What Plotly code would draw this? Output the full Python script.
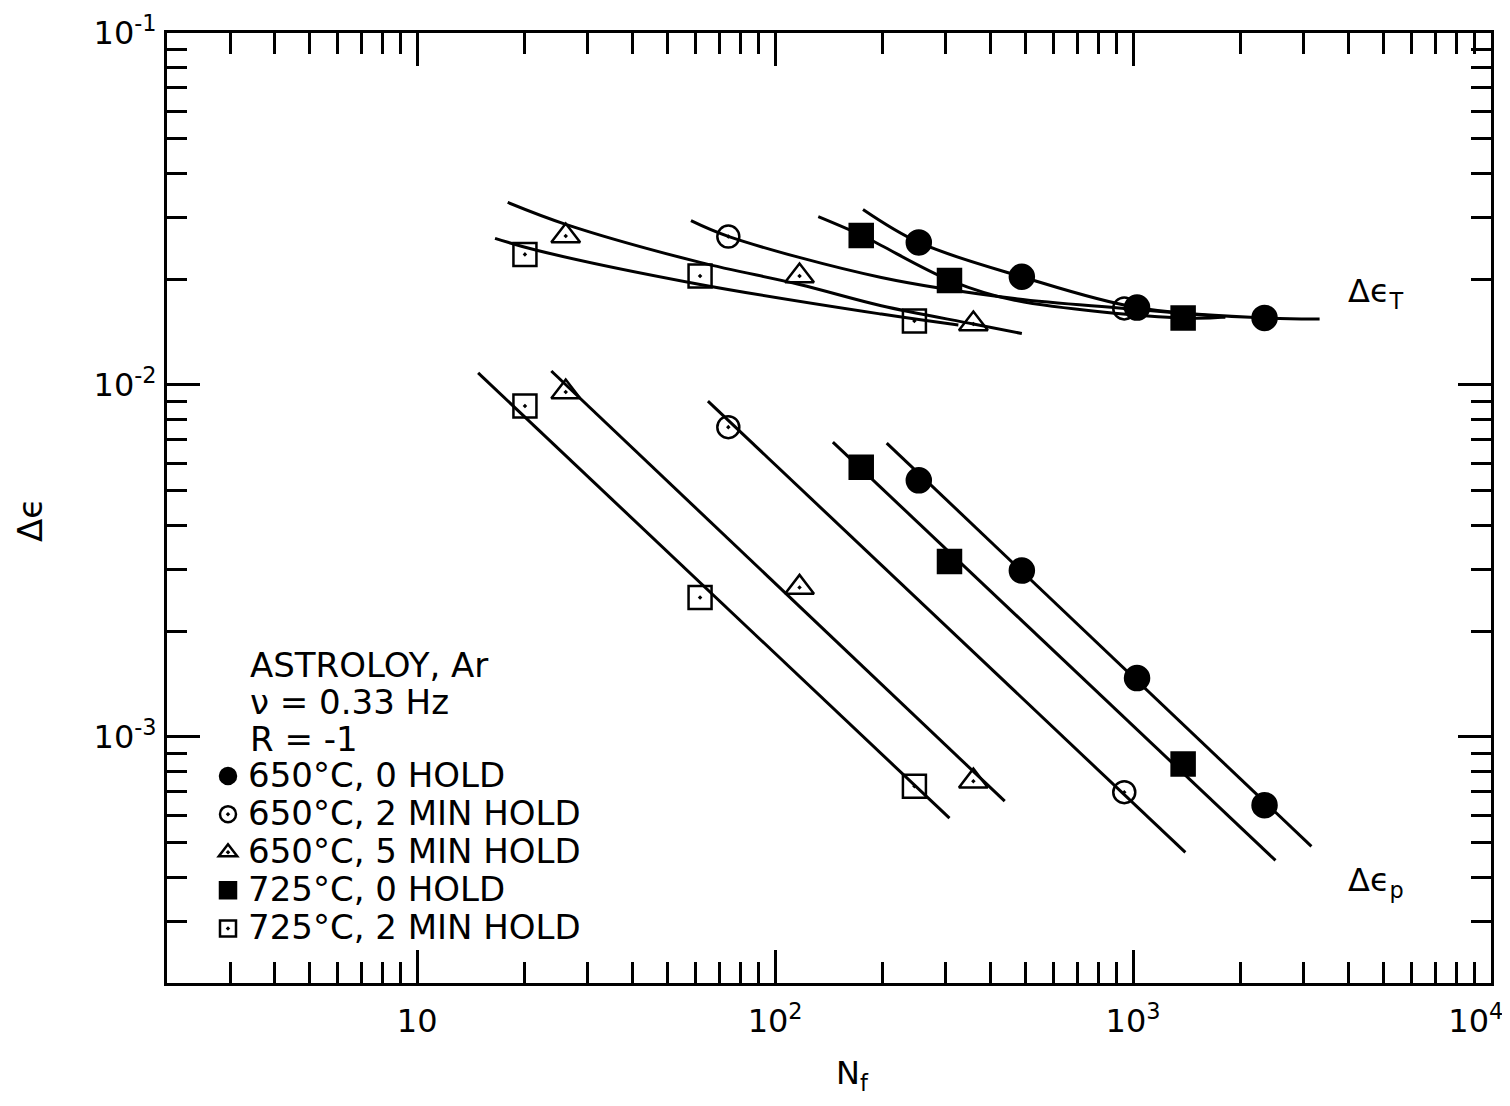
import math
import plotly.graph_objects as go

# ---------------- data ----------------
# Cycles to failure for each condition (shared by total and plastic ranges)
N_650_0 = [252, 489, 1026, 2330]
T_650_0 = [0.0254, 0.0203, 0.0166, 0.0155]
P_650_0 = [0.00536, 0.00297, 0.00147, 0.00064]

N_650_2 = [74, 945]
T_650_2 = [0.0264, 0.0165]
P_650_2 = [0.00759, 0.000697]

N_650_5 = [26, 117, 358]
T_650_5 = [0.0265, 0.0204, 0.0149]
P_650_5 = [0.00955, 0.00266, 0.000749]

N_725_0 = [174, 307, 1380]
T_725_0 = [0.0266, 0.0198, 0.0155]
P_725_0 = [0.00584, 0.00315, 0.000838]

N_725_2 = [20, 61.7, 245]
T_725_2 = [0.0235, 0.0204, 0.0152]
P_725_2 = [0.00871, 0.00249, 0.000725]

# Fitted total-strain curves
FT_650_0_N = [176, 252, 489, 1026, 2330, 3320]
FT_650_0_V = [0.0315, 0.0254, 0.0203, 0.0166, 0.0155, 0.0154]
FT_650_2_N = [58.2, 74.3, 198, 467, 950, 1810]
FT_650_2_V = [0.0293, 0.0264, 0.0202, 0.0176, 0.0165, 0.0156]
FT_650_5_N = [17.9, 26, 61.7, 117, 198, 358, 489]
FT_650_5_V = [0.0330, 0.0286, 0.0223, 0.0193, 0.0168, 0.0149, 0.0140]
FT_725_0_N = [132, 175, 198, 309, 467, 1400, 1810]
FT_725_0_V = [0.0301, 0.0266, 0.0249, 0.0198, 0.0174, 0.0155, 0.0156]
FT_725_2_N = [16.5, 21.7, 61.7, 198, 325]
FT_725_2_V = [0.0261, 0.0241, 0.0193, 0.0159, 0.0148]

# Fitted plastic-strain lines (end points)
FP_650_0_N = [205, 3150]
FP_650_0_V = [0.00684, 0.000489]
FP_650_2_N = [64.9, 1400]
FP_650_2_V = [0.0090, 0.00047]
FP_650_5_N = [23.7, 438]
FP_650_5_V = [0.01096, 0.000657]
FP_725_0_N = [145, 2500]
FP_725_0_V = [0.00688, 0.000446]
FP_725_2_N = [14.8, 307]
FP_725_2_V = [0.01082, 0.000588]

SERIES_NAMES = ["650°C, 0 HOLD", "650°C, 2 MIN HOLD", "650°C, 5 MIN HOLD",
                "725°C, 0 HOLD", "725°C, 2 MIN HOLD"]
X_TICKS = [10, 100, 1000, 10000]
X_TICK_TEXT = ["10", "10<sup>2</sup>", "10<sup>3</sup>", "10<sup>4</sup>\u00a0\u00a0\u00a0"]
Y_TICKS = [1e-3, 1e-2, 1e-1]
Y_TICK_TEXT = ["10<sup>-3</sup>", "10<sup>-2</sup>", "10<sup>-1</sup>"]
X_MINOR = [m * 10 ** d for d in range(0, 4) for m in range(2, 10)]
Y_MINOR = [m * 10.0 ** d for d in range(-4, -1) for m in range(2, 10)]

FONT = "DejaVu Sans"
# page body has an 8px margin: figure is 1494x1090 so the page is 1510x1106
W, H = 1494, 1090
ML, MR, MT, MB = 159, 11, 25, 115
PW, PH = W - ML - MR, H - MT - MB
OFF = 8


def px(xs):  # screen x -> paper fraction
    return (xs - OFF - ML) / PW


def py(ys):  # screen y -> paper fraction
    return (H - MB - (ys - OFF)) / PH


fig = go.Figure()

series = [
    (N_650_0, T_650_0, P_650_0, "circle", 24, FT_650_0_N, FT_650_0_V, FP_650_0_N, FP_650_0_V),
    (N_650_2, T_650_2, P_650_2, "circle-open-dot", 22, FT_650_2_N, FT_650_2_V, FP_650_2_N, FP_650_2_V),
    (N_650_5, T_650_5, P_650_5, "triangle-up-open-dot", 25, FT_650_5_N, FT_650_5_V, FP_650_5_N, FP_650_5_V),
    (N_725_0, T_725_0, P_725_0, "square", 23, FT_725_0_N, FT_725_0_V, FP_725_0_N, FP_725_0_V),
    (N_725_2, T_725_2, P_725_2, "square-open-dot", 23, FT_725_2_N, FT_725_2_V, FP_725_2_N, FP_725_2_V),
]

# fitted lines first (under the markers)
for (n, t, p, sym, sz, ftn, ftv, fpn, fpv) in series:
    fig.add_trace(go.Scatter(x=ftn, y=ftv, mode="lines",
                             line=dict(color="black", width=3, shape="spline", smoothing=1.0),
                             showlegend=False, hoverinfo="skip"))
    fig.add_trace(go.Scatter(x=fpn, y=fpv, mode="lines", line=dict(color="black", width=3),
                             showlegend=False, hoverinfo="skip"))

for name, (n, t, p, sym, sz, ftn, ftv, fpn, fpv) in zip(SERIES_NAMES, series):
    fig.add_trace(go.Scatter(
        x=list(n) + list(n), y=list(t) + list(p), mode="markers",
        name='<span style="font-size:34px">' + name + "</span>",
        marker=dict(symbol=sym, size=sz, color="black", line=dict(color="black", width=2.5)),
    ))

axis_common = dict(
    type="log", showline=True, linecolor="black", linewidth=3, mirror="allticks",
    ticks="inside", tickwidth=3, tickcolor="black", showgrid=False, zeroline=False,
    tickfont=dict(family=FONT, size=32, color="black"), ticklabeloverflow="allow",
    automargin=False,
)

fig.update_xaxes(
    range=[math.log10(2), 4], tickmode="array", tickvals=X_TICKS, ticktext=X_TICK_TEXT,
    ticklen=33, ticklabelstandoff=8,
    minor=dict(tickmode="array", tickvals=X_MINOR, ticks="inside", ticklen=21, tickwidth=3, tickcolor="black"),
    **axis_common,
)
fig.update_yaxes(
    range=[math.log10(2e-4), -1], tickmode="array", tickvals=Y_TICKS, ticktext=Y_TICK_TEXT,
    ticklen=33, ticklabelstandoff=1,
    minor=dict(tickmode="array", tickvals=Y_MINOR, ticks="inside", ticklen=20, tickwidth=3, tickcolor="black"),
    **axis_common,
)

header = [
    ("ASTROLOY, Ar", 248, 665),
    ("\u03bd = 0.33 Hz", 248, 702),
    ("R = -1", 248, 739),
]
anns = []
for text, xs, ys in header:
    anns.append(dict(text=text, x=px(xs), y=py(ys), xref="paper", yref="paper", xanchor="left",
                     yanchor="middle", showarrow=False, font=dict(family=FONT, size=34, color="black")))
anns.append(dict(text="\u0394\u03f5<sub>T</sub>", x=px(1346), y=py(293), xref="paper", yref="paper",
                 xanchor="left", yanchor="middle", showarrow=False, font=dict(family=FONT, size=32, color="black")))
anns.append(dict(text="\u0394\u03f5<sub>p</sub>", x=px(1346), y=py(882), xref="paper", yref="paper",
                 xanchor="left", yanchor="middle", showarrow=False, font=dict(family=FONT, size=32, color="black")))
anns.append(dict(text="\u0394\u03f5", x=px(30), y=py(520), xref="paper", yref="paper", textangle=-90,
                 xanchor="center", yanchor="middle", showarrow=False, font=dict(family=FONT, size=34, color="black")))
anns.append(dict(text="N<sub>f</sub>", x=px(852), y=py(1075), xref="paper", yref="paper",
                 xanchor="center", yanchor="middle", showarrow=False, font=dict(family=FONT, size=32, color="black")))

fig.update_layout(
    width=W, height=H,
    margin=dict(l=ML, r=MR, t=MT, b=MB, pad=0, autoexpand=False),
    paper_bgcolor="white", plot_bgcolor="white",
    showlegend=True,
    legend=dict(x=px(208), y=py(752), xanchor="left", yanchor="top", bgcolor="rgba(0,0,0,0)",
                font=dict(family=FONT, size=27, color="black"), itemclick=False, itemdoubleclick=False),
    annotations=anns,
)

fig.write_html("out.html")
